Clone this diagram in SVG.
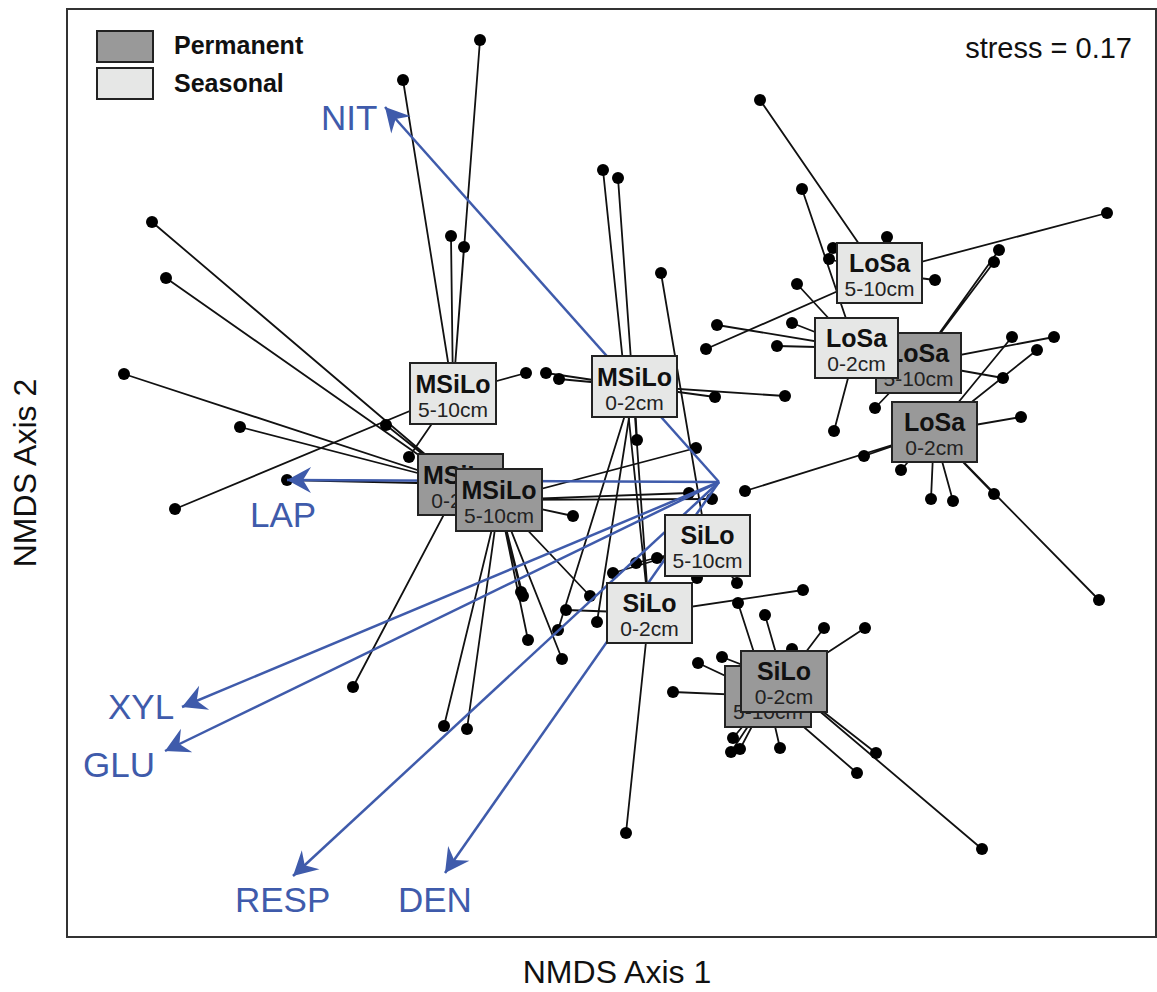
<svg xmlns="http://www.w3.org/2000/svg" width="1157" height="992" viewBox="0 0 1157 992">
<style>
.sp{fill:none;stroke:#111;stroke-width:1.8}
.dot{fill:#000}
.vec{fill:none;stroke:#3f5bab;stroke-width:2.5;marker-end:url(#ah)}
.vl{font-family:"Liberation Sans",Arial,sans-serif;font-size:35px;fill:#3f5bab}
.perm{fill:#999;stroke:#222;stroke-width:2}
.seas{fill:#e6e7e6;stroke:#222;stroke-width:2}
.t1{font-family:"Liberation Sans",Arial,sans-serif;font-size:25px;font-weight:bold;fill:#111;text-anchor:middle}
.t2{font-family:"Liberation Sans",Arial,sans-serif;font-size:21px;fill:#222;text-anchor:middle}
.lg{font-family:"Liberation Sans",Arial,sans-serif;font-size:25px;font-weight:bold;fill:#111}
.ax{font-family:"Liberation Sans",Arial,sans-serif;font-size:32px;fill:#111;text-anchor:middle}
</style>
<defs>
<marker id="ah" markerUnits="userSpaceOnUse" viewBox="-26 -14 28 28" refX="0" refY="0" markerWidth="28" markerHeight="28" orient="auto">
<path d="M0,0 L-24,-13 L-16,0 L-24,13 Z" fill="#3f5bab"/>
</marker>
</defs>
<rect width="1157" height="992" fill="#fff"/>
<rect x="67" y="9" width="1089" height="928" fill="none" stroke="#333" stroke-width="2"/>
<g id="legend">
<rect x="97" y="31" width="56" height="31" class="perm"/>
<rect x="97" y="68" width="56" height="31" class="seas"/>
<text x="174" y="54" class="lg">Permanent</text>
<text x="174" y="92" class="lg">Seasonal</text>
</g>
<text x="1132" y="58" font-family="Liberation Sans, Arial, sans-serif" font-size="29" text-anchor="end" fill="#111">stress = 0.17</text>
<g id="connectors">
<path class="sp" d="M453 393L480 40M453 393L403 80M453 393L451 236M453 393L464 247M453 393L175 509M453 393L526 373M453 393L409 457"/>
<path class="sp" d="M460 484L152 222M460 484L166 278M460 484L124 374M460 484L240 427M460 484L287 480M460 484L353 687M460 484L386 425"/>
<path class="sp" d="M499 500L444 726M499 500L467 729M499 500L521 592M499 500L523 596M499 500L562 659M499 500L528 640M499 500L573 516M499 500L696 448M499 500L689 493M499 500L712 499M499 500L590 596"/>
<path class="sp" d="M634 386L546 373M634 386L559 379M634 386L715 397M634 386L785 396M634 386L637 440M634 386L558 630M634 386L597 622"/>
<path class="sp" d="M879 273L760 100M879 273L833 248M879 273L829 259M879 273L706 349M879 273L1107 213M879 273L935 280M879 273L887 237"/>
<path class="sp" d="M856 348L802 189M856 348L797 284M856 348L717 325M856 348L792 323M856 348L777 346M856 348L834 431"/>
<path class="sp" d="M918 363L999 250M918 363L994 262M918 363L1054 337M918 363L1003 378M918 363L875 408"/>
<path class="sp" d="M934 432L1012 337M934 432L1037 350M934 432L1021 417M934 432L864 456M934 432L745 491M934 432L901 470M934 432L931 499M934 432L953 501M934 432L994 494M934 432L1099 600"/>
<path class="sp" d="M707 545L661 273M707 545L657 558M707 545L636 563M707 545L613 573M707 545L697 578M707 545L737 583"/>
<path class="sp" d="M649 613L603 170M649 613L618 178M649 613L626 833M649 613L803 590M649 613L566 610"/>
<path class="sp" d="M768 696L673 692M768 696L698 663M768 696L733 738M768 696L731 752M768 696L740 749M768 696L780 748M768 696L857 773M768 696L738 603"/>
<path class="sp" d="M784 681L722 657M784 681L824 628M784 681L865 628M784 681L792 649M784 681L876 753M784 681L982 849M784 681L765 615"/>
</g>
<g id="points" class="dot">
<circle cx="480" cy="40" r="6"/><circle cx="403" cy="80" r="6"/><circle cx="451" cy="236" r="6"/><circle cx="464" cy="247" r="6"/><circle cx="175" cy="509" r="6"/><circle cx="526" cy="373" r="6"/><circle cx="409" cy="457" r="6"/>
<circle cx="152" cy="222" r="6"/><circle cx="166" cy="278" r="6"/><circle cx="124" cy="374" r="6"/><circle cx="240" cy="427" r="6"/><circle cx="287" cy="480" r="6"/><circle cx="353" cy="687" r="6"/><circle cx="386" cy="425" r="6"/>
<circle cx="444" cy="726" r="6"/><circle cx="467" cy="729" r="6"/><circle cx="521" cy="592" r="6"/><circle cx="523" cy="596" r="6"/><circle cx="562" cy="659" r="6"/><circle cx="528" cy="640" r="6"/><circle cx="573" cy="516" r="6"/><circle cx="696" cy="448" r="6"/><circle cx="689" cy="493" r="6"/><circle cx="712" cy="499" r="6"/><circle cx="590" cy="596" r="6"/>
<circle cx="546" cy="373" r="6"/><circle cx="559" cy="379" r="6"/><circle cx="715" cy="397" r="6"/><circle cx="785" cy="396" r="6"/><circle cx="637" cy="440" r="6"/><circle cx="558" cy="630" r="6"/><circle cx="597" cy="622" r="6"/>
<circle cx="760" cy="100" r="6"/><circle cx="833" cy="248" r="6"/><circle cx="829" cy="259" r="6"/><circle cx="706" cy="349" r="6"/><circle cx="1107" cy="213" r="6"/><circle cx="935" cy="280" r="6"/><circle cx="887" cy="237" r="6"/>
<circle cx="802" cy="189" r="6"/><circle cx="797" cy="284" r="6"/><circle cx="717" cy="325" r="6"/><circle cx="792" cy="323" r="6"/><circle cx="777" cy="346" r="6"/><circle cx="834" cy="431" r="6"/>
<circle cx="999" cy="250" r="6"/><circle cx="994" cy="262" r="6"/><circle cx="1054" cy="337" r="6"/><circle cx="1003" cy="378" r="6"/><circle cx="875" cy="408" r="6"/>
<circle cx="1012" cy="337" r="6"/><circle cx="1037" cy="350" r="6"/><circle cx="1021" cy="417" r="6"/><circle cx="864" cy="456" r="6"/><circle cx="745" cy="491" r="6"/><circle cx="901" cy="470" r="6"/><circle cx="931" cy="499" r="6"/><circle cx="953" cy="501" r="6"/><circle cx="994" cy="494" r="6"/><circle cx="1099" cy="600" r="6"/>
<circle cx="661" cy="273" r="6"/><circle cx="657" cy="558" r="6"/><circle cx="636" cy="563" r="6"/><circle cx="613" cy="573" r="6"/><circle cx="697" cy="578" r="6"/><circle cx="737" cy="583" r="6"/>
<circle cx="603" cy="170" r="6"/><circle cx="618" cy="178" r="6"/><circle cx="626" cy="833" r="6"/><circle cx="803" cy="590" r="6"/><circle cx="566" cy="610" r="6"/>
<circle cx="673" cy="692" r="6"/><circle cx="698" cy="663" r="6"/><circle cx="733" cy="738" r="6"/><circle cx="731" cy="752" r="6"/><circle cx="740" cy="749" r="6"/><circle cx="780" cy="748" r="6"/><circle cx="857" cy="773" r="6"/><circle cx="738" cy="603" r="6"/>
<circle cx="722" cy="657" r="6"/><circle cx="824" cy="628" r="6"/><circle cx="865" cy="628" r="6"/><circle cx="792" cy="649" r="6"/><circle cx="876" cy="753" r="6"/><circle cx="982" cy="849" r="6"/><circle cx="765" cy="615" r="6"/>
</g>
<g id="vectors">
<path class="vec" d="M719 482L385 107"/>
<path class="vec" d="M719 482L287 480"/>
<path class="vec" d="M719 482L182 707"/>
<path class="vec" d="M719 482L165 751"/>
<path class="vec" d="M719 482L293 876"/>
<path class="vec" d="M719 482L445 873"/>
<text x="321" y="130" class="vl">NIT</text>
<text x="250" y="527" class="vl">LAP</text>
<text x="108" y="719" class="vl">XYL</text>
<text x="83" y="777" class="vl">GLU</text>
<text x="235" y="912" class="vl">RESP</text>
<text x="398" y="912" class="vl">DEN</text>
</g>
<g id="MSiLo-5-10-seasonal"><rect x="410" y="363" width="86" height="61" class="seas"/><text x="453" y="393" class="t1">MSiLo</text><text x="453" y="417" class="t2">5-10cm</text></g>
<g id="MSiLo-0-2-seasonal"><rect x="592" y="356" width="85" height="61" class="seas"/><text x="634.5" y="386" class="t1">MSiLo</text><text x="634.5" y="410" class="t2">0-2cm</text></g>
<g id="MSiLo-0-2-permanent"><rect x="418" y="454" width="85" height="61" class="perm"/><text x="460.5" y="484" class="t1">MSiLo</text><text x="460.5" y="508" class="t2">0-2cm</text></g>
<g id="MSiLo-5-10-permanent"><rect x="456" y="469" width="86" height="62" class="perm"/><text x="499" y="499" class="t1">MSiLo</text><text x="499" y="523" class="t2">5-10cm</text></g>
<g id="LoSa-5-10-seasonal"><rect x="837" y="243" width="85" height="60" class="seas"/><text x="879.5" y="272" class="t1">LoSa</text><text x="879.5" y="296" class="t2">5-10cm</text></g>
<g id="LoSa-5-10-permanent"><rect x="876" y="333" width="85" height="60" class="perm"/><text x="918.5" y="362" class="t1">LoSa</text><text x="918.5" y="386" class="t2">5-10cm</text></g>
<g id="LoSa-0-2-seasonal"><rect x="815" y="318" width="83" height="60" class="seas"/><text x="856.5" y="347" class="t1">LoSa</text><text x="856.5" y="371" class="t2">0-2cm</text></g>
<g id="LoSa-0-2-permanent"><rect x="892" y="402" width="85" height="60" class="perm"/><text x="934.5" y="431" class="t1">LoSa</text><text x="934.5" y="455" class="t2">0-2cm</text></g>
<g id="SiLo-5-10-seasonal"><rect x="665" y="515" width="85" height="61" class="seas"/><text x="707.5" y="544" class="t1">SiLo</text><text x="707.5" y="568" class="t2">5-10cm</text></g>
<g id="SiLo-0-2-seasonal"><rect x="607" y="583" width="85" height="60" class="seas"/><text x="649.5" y="612" class="t1">SiLo</text><text x="649.5" y="636" class="t2">0-2cm</text></g>
<g id="SiLo-5-10-permanent"><rect x="725" y="666" width="86" height="61" class="perm"/><text x="768" y="695" class="t1">SiLo</text><text x="768" y="719" class="t2">5-10cm</text></g>
<g id="SiLo-0-2-permanent"><rect x="741" y="651" width="86" height="61" class="perm"/><text x="784" y="680" class="t1">SiLo</text><text x="784" y="704" class="t2">0-2cm</text></g>
<text x="617" y="983" class="ax">NMDS Axis 1</text>
<text transform="translate(36 473) rotate(-90)" class="ax">NMDS Axis 2</text>
</svg>
